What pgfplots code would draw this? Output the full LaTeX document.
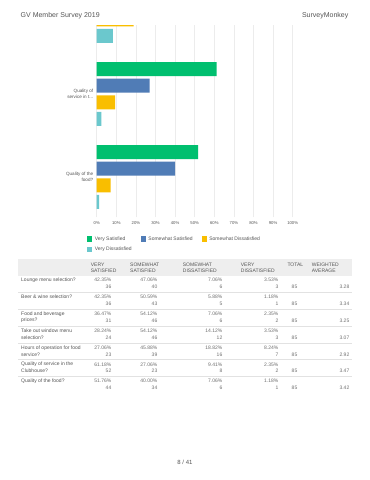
\documentclass[border=0pt]{standalone}
\usepackage{fontspec}
\setmainfont{Liberation Sans}
\usepackage{pgfplots}
\pgfplotsset{compat=1.18}
\definecolor{smgreen}{HTML}{00BF6F}
\definecolor{smblue}{HTML}{507CB6}
\definecolor{smyellow}{HTML}{F9BE00}
\definecolor{smteal}{HTML}{6BC8CD}
\definecolor{gridc}{HTML}{ECECEC}
\definecolor{txt}{HTML}{555555}
\definecolor{valc}{HTML}{707070}
\definecolor{hdr}{HTML}{EEEEEE}
\definecolor{sepc}{HTML}{E2E2E2}
\newcommand{\fs}[1]{\fontsize{#1}{#1}\selectfont}
\newcommand{\threedots}{.\kern0pt.\kern0pt.}
\begin{document}
\begin{tikzpicture}[x=1pt,y=1pt]
\useasboundingbox (0,0) rectangle (370,-480);
\fill[white] (0,0) rectangle (370,-480);
\node[anchor=west, inner sep=0pt, font=\fs{7}, text=txt] at (20.5,-16) {GV Member Survey 2019};
\node[anchor=east, inner sep=0pt, font=\fs{7}, text=txt] at (348.5,-16) {SurveyMonkey};

\begin{axis}[
  at={(96.7pt,-217pt)}, anchor=south west,
  scale only axis, width=196pt, height=192pt,
  xmin=0, xmax=100, ymin=-0.482, ymax=1.831,
  xbar, bar width=14pt,
  axis line style={draw=none},
  xmajorgrids, grid style={gridc, line width=0.6pt},
  major tick length=0pt,
  xtick={0,10,...,100},
  xticklabel={\pgfmathprintnumber{\tick}\%},
  /pgf/number format/assume math mode=true,
  xticklabel style={font=\fs{4.2}, text=txt, yshift=-1.5pt},
  ytick={0,1},
  yticklabels={{Quality of the\\food?},{Quality of\\service in t\threedots}},
  yticklabel style={font=\fontsize{4.6}{6}\selectfont, text=txt, align=right},
  legend columns=3,
  legend image code/.code={\fill[#1] (0pt,-2.6pt) rectangle (5.2pt,2.6pt);},
  legend style={at={(-0.05,-0.09)}, anchor=north west, draw=none, fill=none,
    font=\fs{5}, text=txt, inner sep=0pt, row sep=1.5pt,
    /tikz/every odd column/.append style={column sep=0.5pt},
    /tikz/every even column/.append style={column sep=7pt},
    legend cell align=left},
]
\addplot[fill=smgreen, draw=none, bar shift=24.9pt] coordinates {(51.76,0) (61.18,1) (27.06,2)};
\addplot[fill=smblue, draw=none, bar shift=8.3pt] coordinates {(40.00,0) (27.06,1) (45.88,2)};
\addplot[fill=smyellow, draw=none, bar shift=-8.3pt] coordinates {(7.06,0) (9.41,1) (18.82,2)};
\addplot[fill=smteal, draw=none, bar shift=-24.9pt] coordinates {(1.18,0) (2.35,1) (8.24,2)};
\legend{Very Satisfied, Somewhat Satisfied, Somewhat Dissatisfied, Very Dissatisfied}
\end{axis}

% table header
\fill[hdr] (18,-259) rectangle (352,-275.5);
\begin{scope}[every node/.style={anchor=west, inner sep=0pt, font=\fs{5}, text=txt}]
\node at (90.7,-264.8) {VERY};
\node at (90.7,-270.8) {SATISFIED};
\node at (130,-264.8) {SOMEWHAT};
\node at (130,-270.8) {SATISFIED};
\node at (182.7,-264.8) {SOMEWHAT};
\node at (182.7,-270.8) {DISSATISFIED};
\node at (240.7,-264.8) {VERY};
\node at (240.7,-270.8) {DISSATISFIED};
\node at (287.3,-264.8) {TOTAL};
\node at (311.7,-264.8) {WEIGHTED};
\node at (311.7,-270.8) {AVERAGE};
\end{scope}

\foreach \y/\qa/\qb/\pa/\ca/\pb/\cb/\pc/\cc/\pd/\cd/\avg in {
 280.0/Lounge menu selection?//42.35\%/36/47.06\%/40/7.06\%/6/3.53\%/3/3.28,
 297.0/Beer \& wine selection?//42.35\%/36/50.59\%/43/5.88\%/5/1.18\%/1/3.34,
 314.0/Food and beverage/prices?/36.47\%/31/54.12\%/46/7.06\%/6/2.35\%/2/3.25,
 331.0/Take out window menu/selection?/28.24\%/24/54.12\%/46/14.12\%/12/3.53\%/3/3.07,
 348.0/Hours of operation for food/service?/27.06\%/23/45.88\%/39/18.82\%/16/8.24\%/7/2.92,
 364.5/Quality of service in the/Clubhouse?/61.18\%/52/27.06\%/23/9.41\%/8/2.35\%/2/3.47,
 381.0/Quality of the food?//51.76\%/44/40.00\%/34/7.06\%/6/1.18\%/1/3.42}{
  \node[anchor=west, inner sep=0pt, font=\fs{5}, text=txt] at (21,-\y) {\qa};
  \node[anchor=west, inner sep=0pt, font=\fs{5}, text=txt] at (21,-\y-6.3) {\qb};
  \begin{scope}[every node/.style={anchor=east, inner sep=0pt, font=\fs{5}, text=valc}]
  \node at (111.5,-\y) {\pa};
  \node at (111.5,-\y-6.3) {\ca};
  \node at (157.5,-\y) {\pb};
  \node at (157.5,-\y-6.3) {\cb};
  \node at (222.5,-\y) {\pc};
  \node at (222.5,-\y-6.3) {\cc};
  \node at (278.5,-\y) {\pd};
  \node at (278.5,-\y-6.3) {\cd};
  \node at (297.5,-\y-6.3) {85};
  \node at (349.5,-\y-6.3) {\avg};
  \end{scope}
}
\foreach \ly in {292,309,326,343,359.5,376}{
  \draw[sepc, line width=0.6pt] (18,-\ly) -- (352,-\ly);
}
\node[inner sep=0pt, font=\fs{6}, text=txt] at (185,-462) {8 / 41};
\end{tikzpicture}
\end{document}
